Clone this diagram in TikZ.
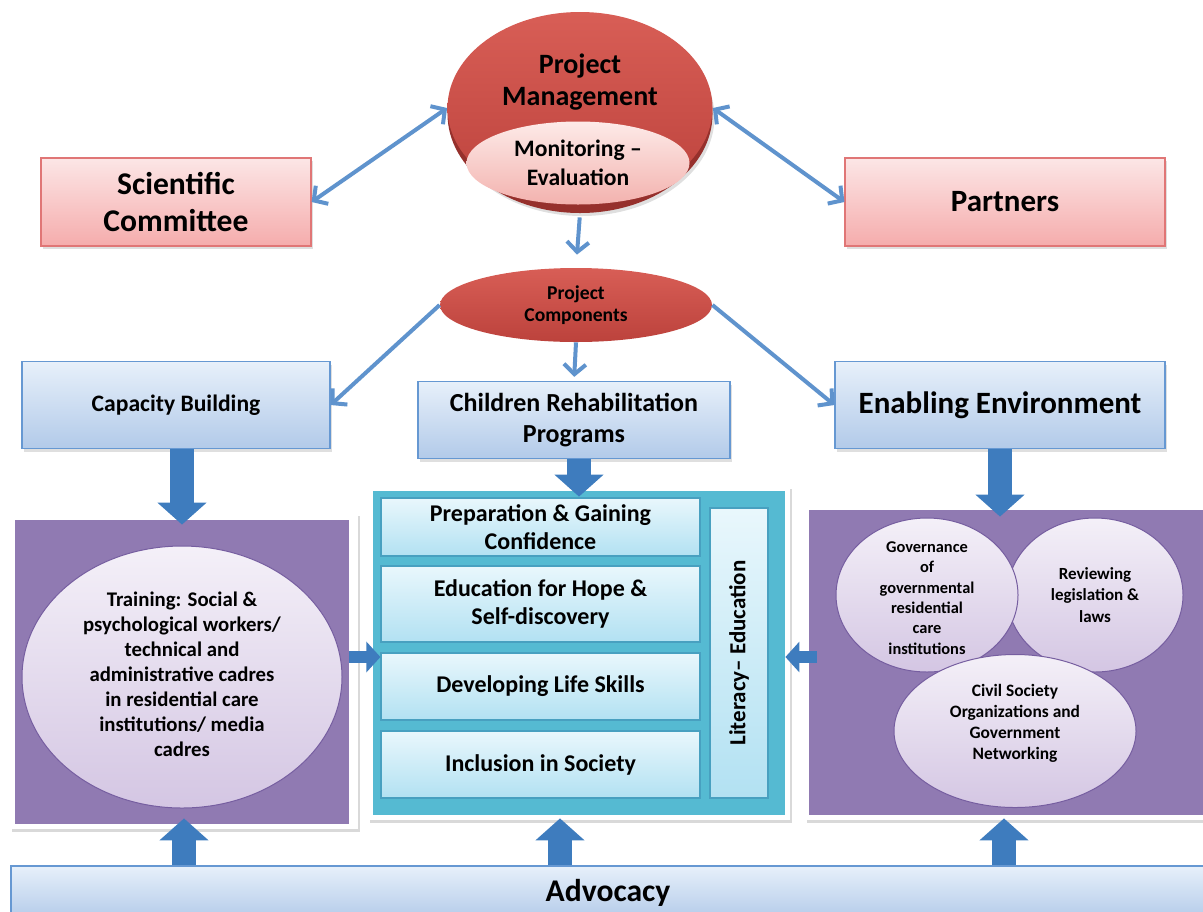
\documentclass[tikz,border=0pt]{standalone}
\usepackage{fontspec}
\setmainfont{Carlito}
\usetikzlibrary{arrows.meta}
\usetikzlibrary{shapes.geometric}
\usetikzlibrary{shadows}
\newcommand{\boldsize}[2]{\fontsize{#1}{#2}\selectfont\bfseries}
\definecolor{pmtop}{RGB}{216,94,86}
\definecolor{pmbot}{RGB}{188,66,60}
\definecolor{pmdark}{RGB}{150,48,44}
\definecolor{evaltop}{RGB}{253,234,232}
\definecolor{evalbot}{RGB}{243,178,174}
\definecolor{pinklight}{RGB}{252,230,230}
\definecolor{pinkdark}{RGB}{245,172,172}
\definecolor{pinkedge}{RGB}{224,118,118}
\definecolor{bluelight}{RGB}{231,240,250}
\definecolor{bluedark}{RGB}{178,202,233}
\definecolor{blueedge}{RGB}{102,152,210}
\definecolor{linkblue}{RGB}{95,147,205}
\definecolor{blockblue}{RGB}{62,124,190}
\definecolor{panelpurple}{RGB}{144,122,178}
\definecolor{lilaclight}{RGB}{244,240,248}
\definecolor{lilacdark}{RGB}{212,198,227}
\definecolor{lilacedge}{RGB}{118,94,160}
\definecolor{panelteal}{RGB}{85,186,210}
\definecolor{teallight}{RGB}{233,247,252}
\definecolor{tealdark}{RGB}{178,225,242}
\definecolor{tealedge}{RGB}{72,160,192}
\tikzstyle{softshadow}=[drop shadow={opacity=0.25, shadow xshift=1pt, shadow yshift=-1.5pt}]
\tikzstyle{redbox}=[rectangle, draw=pinkedge, line width=0.6pt, top color=pinklight, bottom color=pinkdark, align=center, softshadow]
\tikzstyle{bluebox}=[rectangle, draw=blueedge, line width=0.6pt, top color=bluelight, bottom color=bluedark, align=center, softshadow]
\tikzstyle{tealbox}=[rectangle, draw=tealedge, line width=0.6pt, top color=teallight, bottom color=tealdark, align=center, inner sep=1.5pt,
                     minimum width=159.5pt, font=\boldsize{12}{14}]
\tikzstyle{redellipse}=[ellipse, top color=pmtop, bottom color=pmbot, align=center, inner sep=1pt]
\tikzstyle{baseellipse}=[ellipse, fill=pmdark, softshadow]
\tikzstyle{lilacellipse}=[ellipse, draw=lilacedge, line width=0.5pt, top color=lilaclight, bottom color=lilacdark, align=center, inner sep=1pt]
\tikzstyle{whiteframe}=[rectangle, fill=white, drop shadow={opacity=0.3, shadow xshift=1pt, shadow yshift=-1.5pt}]
\tikzstyle{purplepanel}=[rectangle, fill=panelpurple]
\tikzstyle{tealpanel}=[rectangle, fill=panelteal]
\tikzstyle{link}=[draw=linkblue, line width=2pt, -{Straight Barb[length=5pt, width=11pt]}]
\tikzstyle{duallink}=[link, {Straight Barb[length=5pt, width=11pt]}-{Straight Barb[length=5pt, width=11pt]}]
\tikzstyle{blockarrow}=[draw=blockblue, line width=12pt, -{Triangle[length=11pt, width=24pt]}]
\tikzstyle{sidearrow}=[draw=blockblue, line width=6pt, -{Triangle[length=7pt, width=15pt]}]

\begin{document}
\begin{tikzpicture}[x=0.5pt, y=-0.5pt]
        \useasboundingbox (0,0) rectangle (1203,911);
        % management level
        \node[baseellipse, minimum width=132.5pt, minimum height=99pt]                (pmbase) at (580,114) {};
        \node[redellipse, minimum width=132.5pt, minimum height=96pt,
              label={[align=center, font=\boldsize{14}{16}, yshift=13pt]center:{Project\\Management}}] (pm) at (580,108) {};
        \node[ellipse, top color=evaltop, bottom color=evalbot, align=center, inner sep=1pt,
              minimum width=111.5pt, minimum height=41.5pt, font=\boldsize{11.8}{14.5}] (eval) at (578,163) {Monitoring –\\Evaluation};
        \node[redbox, minimum width=135pt, minimum height=44pt, font=\boldsize{15.8}{18.5}] (sci)  at (176,202)  {Scientific\\Committee};
        \node[redbox, minimum width=160pt, minimum height=44pt, font=\boldsize{15.5}{18}]   (part) at (1005,202) {Partners};
        \node[redellipse, minimum width=136pt, minimum height=37pt, font=\boldsize{9.8}{11.2}] (pc) at (576,305) {Project\\Components};
        % components
        \node[bluebox, minimum width=154pt, minimum height=43.5pt, font=\boldsize{11.8}{14}] (cb)  at (176,405)  {Capacity Building};
        \node[bluebox, minimum width=156pt, minimum height=38.5pt, font=\boldsize{13}{15.5}] (crp) at (574,420)  {Children Rehabilitation\\Programs};
        \node[bluebox, minimum width=165pt, minimum height=43.5pt, font=\boldsize{15.5}{18}] (ee)  at (1000,405) {Enabling Environment};
        % left panel
        \node[whiteframe, minimum width=174pt, minimum height=158pt]  (lframe) at (184,671) {};
        \node[purplepanel, minimum width=167pt, minimum height=152pt] (lpanel) at (182,672) {};
        \node[lilacellipse, minimum width=160pt, minimum height=131pt,
              label={[align=center, font=\boldsize{10.4}{12.5}, yshift=1.5pt]center:{Training: Social \&\\psychological workers/\\technical and\\administrative cadres\\in residential care\\institutions/ media\\cadres}}] (train) at (182,677) {};
        % middle panel
        \node[whiteframe, minimum width=211pt, minimum height=167pt] (mframe) at (579,653) {};
        \node[tealpanel, minimum width=206pt, minimum height=162pt]  (mpanel) at (579,653) {};
        \node[tealbox, minimum height=29pt]   (prep) at (540.5,527)   {Preparation \& Gaining\\Confidence};
        \node[tealbox, minimum height=38pt]   (hope) at (540.5,604)   {Education for Hope \&\\Self-discovery};
        \node[tealbox, minimum height=33.5pt] (life) at (540.5,686.5) {Developing Life Skills};
        \node[tealbox, minimum height=33.5pt] (incl) at (540.5,764.5) {Inclusion in Society};
        \node[tealbox, minimum width=29pt, minimum height=145pt,
              label={[rotate=90, font=\boldsize{11.5}{14}]center:Literacy– Education}] (lit) at (739,653) {};
        % right panel
        \node[whiteframe, minimum width=199pt, minimum height=157.5pt] (rframe) at (1004,662.5) {};
        \node[purplepanel, minimum width=197pt, minimum height=152.5pt] (rpanel) at (1006,662.5) {};
        \node[lilacellipse, minimum width=88pt, minimum height=77pt, font=\boldsize{8.5}{10.8}] (rev) at (1095,595) {Reviewing\\legislation \&\\laws};
        \node[lilacellipse, minimum width=91pt, minimum height=77pt,
              label={[align=center, font=\boldsize{8.2}{10.2}, yshift=-1.5pt]center:{Governance\\of\\governmental\\residential\\care\\institutions}}] (gov) at (927,595) {};
        \node[lilacellipse, minimum width=121pt, minimum height=76.5pt,
              label={[align=center, font=\boldsize{8.7}{10.5}, yshift=4pt]center:{Civil Society\\Organizations and\\Government\\Networking}}] (civ) at (1015,731) {};
        % advocacy
        \node[bluebox, minimum width=597pt, minimum height=27pt,
              label={[font=\boldsize{15.8}{18}]center:Advocacy}] (adv) at (608,893) {};
        % thin connectors
        \draw[duallink] (sci.east) -- (pm.west);
        \draw[duallink] (pm.east) -- (part.west);
        \draw[link, shorten <=2pt, shorten >=6.5pt] (pmbase.south) -- (pc.north);
        \draw[link] (pc.west) -- (cb.east);
        \draw[link, shorten >=2pt] (pc.south) -- (crp.north);
        \draw[link] (pc.east) -- (ee.west);
        % block arrows
        \path (ee.south |- rpanel.north) ++(0,7) coordinate (eetip);
        \path (mframe.south) ++(-19,0) coordinate (mbot);
        \path ([yshift=7.5pt]lpanel.east) coordinate (lout);
        \path ([xshift=4pt, yshift=2.75pt]rpanel.west) coordinate (rout);
        \draw[blockarrow] (lpanel.north |- cb.south) -- ([yshift=-2.5pt]lpanel.north);
        \draw[blockarrow] (mpanel.north |- crp.south) -- ([yshift=-3pt]mpanel.north);
        \draw[blockarrow] (ee.south) -- (eetip);
        \draw[blockarrow] (lframe.south |- adv.north) -- ([yshift=5.5pt]lframe.south);
        \draw[blockarrow] (mbot |- adv.north) -- ([yshift=1pt]mbot);
        \draw[blockarrow] (rframe.south |- adv.north) -- ([yshift=1pt]rframe.south);
        \draw[sidearrow] (lout) -- (lout -| prep.west);
        \draw[sidearrow] (rout) -- (rout -| mpanel.east);
    \end{tikzpicture}
\end{document}
